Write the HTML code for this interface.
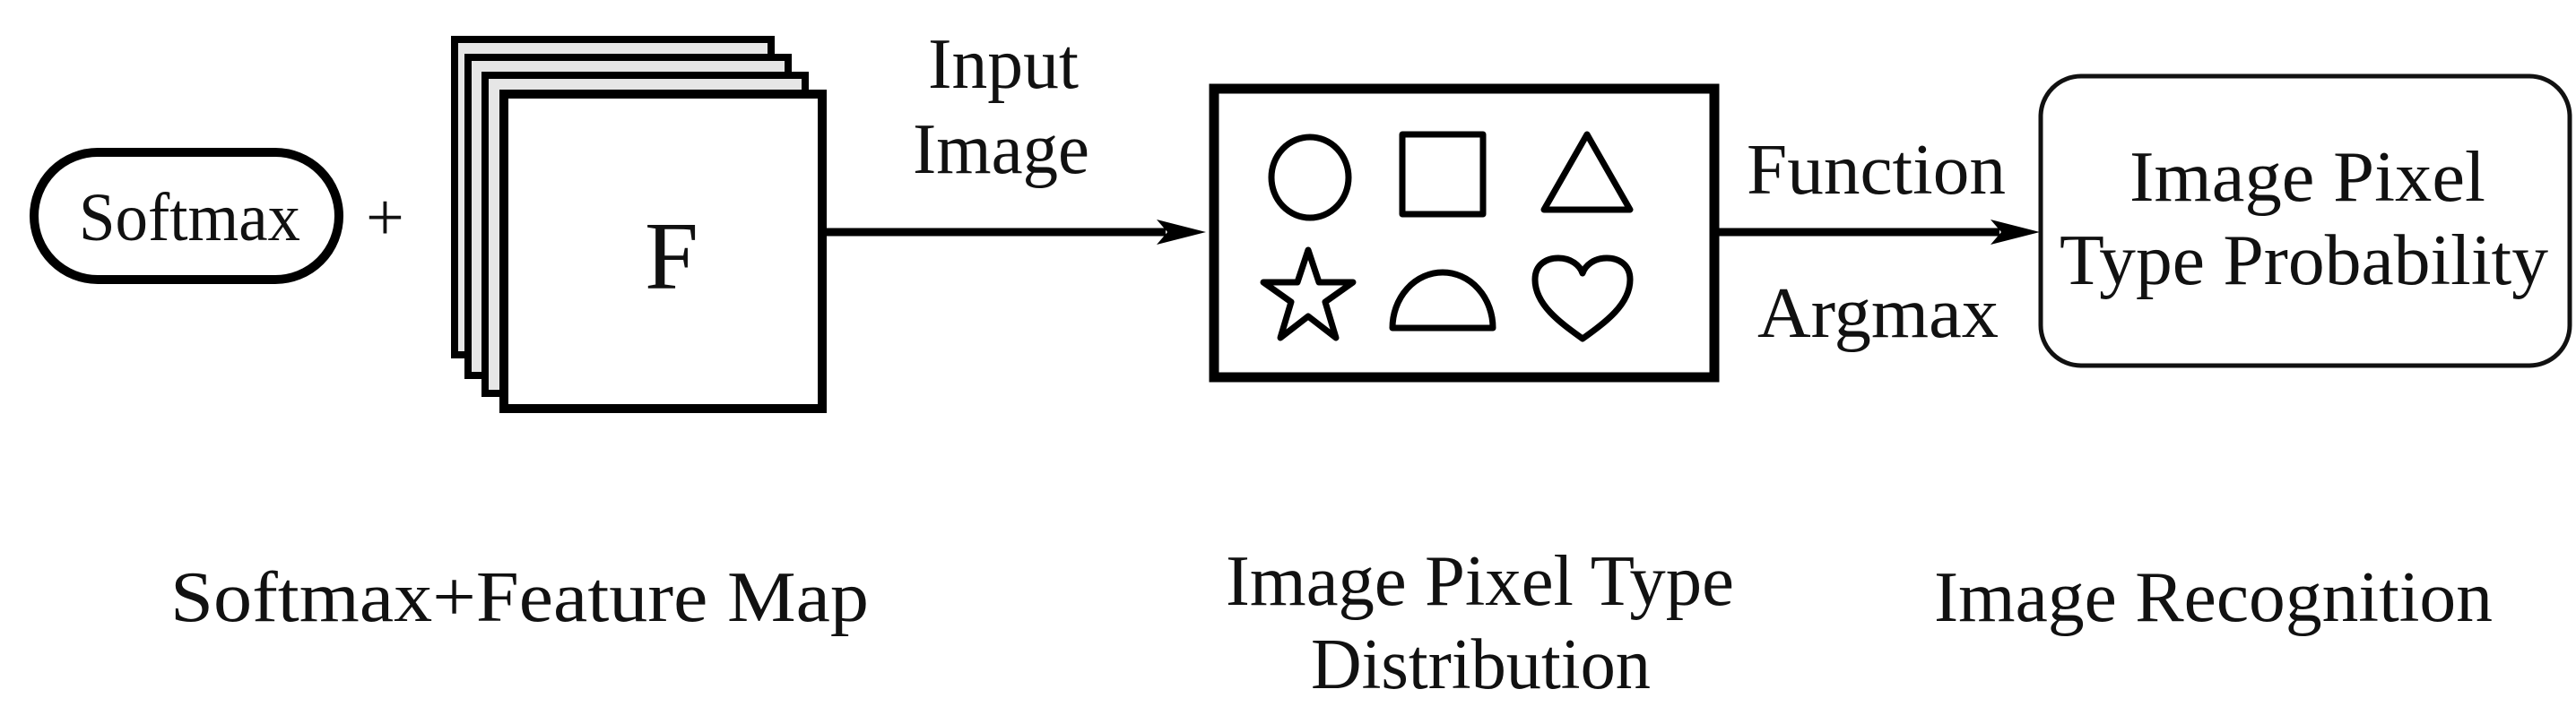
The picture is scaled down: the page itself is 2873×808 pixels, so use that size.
<!DOCTYPE html>
<html><head><meta charset="utf-8"><style>
html,body{margin:0;padding:0;background:#fff;}
svg{display:block;}
svg text{font-family:'Liberation Serif','DejaVu Serif','Times New Roman',serif !important;fill:#111;}
</style></head><body>
<svg width="2873" height="808" viewBox="0 0 2873 808" xmlns="http://www.w3.org/2000/svg" font-family="'Liberation Serif', 'DejaVu Serif', serif">
<!-- Softmax pill -->
<rect x="38" y="170" width="340" height="142" rx="71" ry="71" fill="#fff" stroke="#000" stroke-width="10"/>
<text x="88" y="268" font-size="76" textLength="247" lengthAdjust="spacingAndGlyphs">Softmax</text>
<text x="408" y="268" font-size="76">+</text>
<!-- stacked maps -->
<rect x="507" y="44" width="353" height="352" fill="#e6e6e6" stroke="#000" stroke-width="8"/>
<rect x="522" y="64" width="357" height="355" fill="#e6e6e6" stroke="#000" stroke-width="8"/>
<rect x="541" y="84" width="357" height="355" fill="#e6e6e6" stroke="#000" stroke-width="8"/>
<rect x="562" y="105" width="355" height="351" fill="#fff" stroke="#000" stroke-width="10"/>
<text x="719" y="322" font-size="108" textLength="60" lengthAdjust="spacingAndGlyphs">F</text>
<!-- arrow 1 -->
<line x1="922" y1="259" x2="1300" y2="259" stroke="#000" stroke-width="9"/>
<path d="M1290 245 L1345 259 L1290 273 L1302 259 Z" fill="#000"/>
<text x="1035" y="98" font-size="80" textLength="168" lengthAdjust="spacingAndGlyphs">Input</text>
<text x="1018" y="193" font-size="80" textLength="197" lengthAdjust="spacingAndGlyphs">Image</text>
<!-- distribution box -->
<rect x="1354" y="99" width="558" height="322" fill="#fff" stroke="#000" stroke-width="11"/>
<g fill="none" stroke="#000" stroke-width="7" stroke-linejoin="round">
<ellipse cx="1461" cy="198" rx="43" ry="45"/>
<rect x="1564" y="150" width="90" height="89"/>
<path d="M1770 150 L1818 234 L1722 234 Z"/>
<path d="M1459 279 L1471 315 L1509 315 L1478 337 L1490 377 L1459 353 L1428 377 L1440 337 L1409 315 L1447 315 Z"/>
<path d="M1553 366 L1665 366 A56 62 0 0 0 1553 366 Z"/>
<path d="M1765 378 C1740 360 1712 340 1712 312 C1712 295 1725 288 1738 288 C1752 288 1762 296 1765 305 C1768 296 1778 288 1792 288 C1805 288 1818 295 1818 312 C1818 340 1790 360 1765 378 Z"/>
</g>
<!-- arrow 2 -->
<line x1="1912" y1="259" x2="2230" y2="259" stroke="#000" stroke-width="9"/>
<path d="M2220 245 L2275 259 L2220 273 L2232 259 Z" fill="#000"/>
<text x="1948" y="216" font-size="80" textLength="289" lengthAdjust="spacingAndGlyphs">Function</text>
<text x="1960" y="376" font-size="80" textLength="269" lengthAdjust="spacingAndGlyphs">Argmax</text>
<!-- result box -->
<rect x="2276" y="85" width="590" height="323" rx="45" ry="45" fill="#fff" stroke="#111" stroke-width="5"/>
<text x="2375" y="224" font-size="80" textLength="397" lengthAdjust="spacingAndGlyphs">Image Pixel</text>
<text x="2297" y="317" font-size="80" textLength="545" lengthAdjust="spacingAndGlyphs">Type Probability</text>
<!-- bottom labels -->
<text x="190" y="693" font-size="80" textLength="779" lengthAdjust="spacingAndGlyphs">Softmax+Feature Map</text>
<text x="1367" y="675" font-size="80" textLength="567" lengthAdjust="spacingAndGlyphs">Image Pixel Type</text>
<text x="1462" y="768" font-size="80" textLength="379" lengthAdjust="spacingAndGlyphs">Distribution</text>
<text x="2157" y="693" font-size="80" textLength="623" lengthAdjust="spacingAndGlyphs">Image Recognition</text>
</svg>
</body></html>
